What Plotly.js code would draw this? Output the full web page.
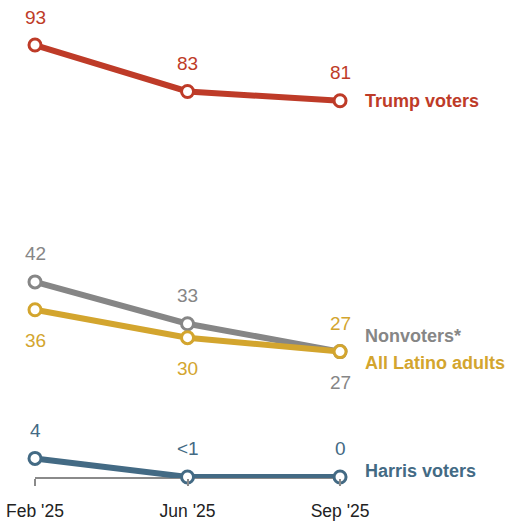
<!DOCTYPE html>
<html><head><meta charset="utf-8">
<script src="https://cdn.plot.ly/plotly-3.0.1.min.js"></script>
<style>html,body{margin:0;padding:0;background:#fff;}#chart{width:513px;height:523px;}</style>
</head><body><div id="chart"></div>
<script>
const months = ["Feb '25", "Jun '25", "Sep '25"];
const seriesNames = ["Trump voters", "Nonvoters*", "All Latino adults", "Harris voters"];
const trump = [93, 83, 81];
const nonvoters = [42, 33, 27];
const latino = [36, 30, 27];
const harris = [4, 0, 0];
const trumpText = ["93", "83", "81"];
const nonvotersText = ["42", "33", "27"];
const latinoText = ["36", "30", "27"];
const harrisText = ["4", "<1", "0"];
const colors = ["#BE3B28", "#868686", "#D3A52E", "#436A84"];

const values = [trump, nonvoters, latino, harris];
const texts = [trumpText, nonvotersText, latinoText, harrisText];
// label placement: +1 above, -1 below
const placement = [[1,1,1],[1,1,-1],[-1,-1,1],[1,1,1]];
const nameShift = [0, 16, -11, 6];

const xs = [0, 1, 2];
const traces = [];
[0, 1, 2, 3].forEach(i => {
  traces.push({
    x: xs, y: values[i], type: 'scatter', mode: 'lines+markers',
    line: {color: colors[i], width: 6},
    marker: {symbol: 'circle', size: 12, color: '#fff', line: {color: colors[i], width: 3}},
    cliponaxis: false, hoverinfo: 'skip', showlegend: false
  });
});

const font = 'Liberation Sans, Arial, sans-serif';
const annotations = [];
values.forEach((v, i) => {
  v.forEach((val, j) => {
    annotations.push({
      x: xs[j], y: val, xref: 'x', yref: 'y', text: texts[i][j], showarrow: false,
      yshift: placement[i][j] > 0 ? 28 : -31,
      font: {family: font, size: 19, color: colors[i]}
    });
  });
  annotations.push({
    x: 2, y: v[2], xref: 'x', yref: 'y', text: '<b>' + seriesNames[i] + '</b>', showarrow: false,
    xanchor: 'left', xshift: 23, yshift: nameShift[i],
    font: {family: font, size: 18, color: colors[i]}
  });
});

const layout = {
  width: 513, height: 523,
  margin: {l: 0, r: 0, t: 0, b: 45},
  paper_bgcolor: '#fff', plot_bgcolor: '#fff',
  xaxis: {
    range: [-0.2295, 3.134], tickmode: 'array', tickvals: xs, ticktext: months,
    showgrid: false, zeroline: false, showline: false,
    ticks: 'outside', ticklen: 7, tickwidth: 2, tickcolor: '#8a8a8a',
    tickfont: {family: font, size: 17.5, color: '#222'},
    ticklabelstandoff: 10, fixedrange: true
  },
  yaxis: {range: [-0.22, 102.7], visible: false, showgrid: false, zeroline: false, fixedrange: true},
  shapes: [{type: 'line', xref: 'x', yref: 'paper', x0: 0, x1: 2, y0: 0, y1: 0,
            line: {color: '#8a8a8a', width: 2}, layer: 'below'}],
  annotations: annotations,
  showlegend: false
};
Plotly.newPlot('chart', traces, layout, {displayModeBar: false, staticPlot: true});
</script></body></html>
